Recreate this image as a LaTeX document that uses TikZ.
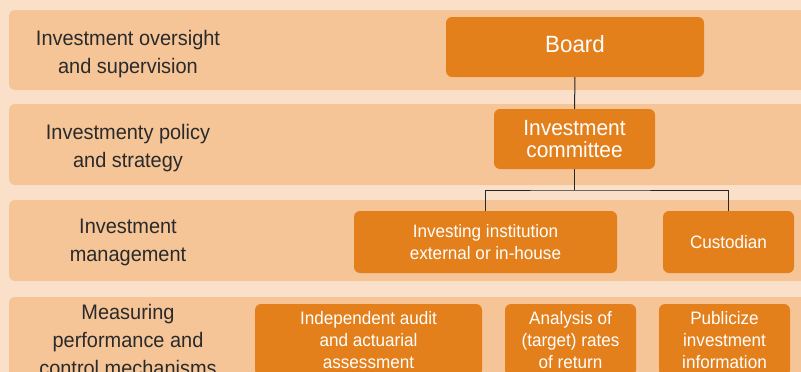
\documentclass[tikz,border=0pt]{standalone}
\usepackage{fontspec}
\setmainfont{Liberation Sans}[FakeStretch=0.95]
\usepackage{tikz}
\usetikzlibrary{positioning}
\usepackage{xcolor}
\definecolor{paper}{HTML}{FAE0C8}
\definecolor{layer}{HTML}{F5C598}
\definecolor{organ}{HTML}{E3801C}
\definecolor{caption}{HTML}{2A2A2A}

\tikzset{
  band/.style={fill=layer, rounded corners=6pt},
  lab/.style={align=center, text=caption, font=\fontsize{21}{28}\selectfont},
  unit/.style={fill=organ, rounded corners=6pt, text=white, align=center, inner sep=0pt,
    font=\fontsize{18}{22}\selectfont},
  link/.style={draw=black!85, line width=1pt}
}

\begin{document}
\begin{tikzpicture}[x=1pt, y=-1pt]
  \clip (0,0) rectangle (801,372);
  \fill[paper] (0,0) rectangle (801,372);
  % the four levels
  \fill[band] (9,10) rectangle (820,90);
  \fill[band] (9,104) rectangle (820,185);
  \fill[band] (9,200) rectangle (820,281);
  \fill[band] (9,297) rectangle (820,400);

  \node[lab] (oversight) at (128,54) {Investment oversight\\and supervision};
  \node[lab] (policy) at (128,148) {Investmenty policy\\and strategy};
  \node[lab] (management) at (128,242) {Investment\\management};
  \node[lab] (measuring) at (128,340) {Measuring\\performance and\\control mechanisms};

  % organs
  \node[unit, minimum width=258pt, minimum height=60pt, text depth=6pt, font=\fontsize{23.5}{26}\selectfont] (board) at (575,47) {Board};
  \node[unit, minimum width=161pt, minimum height=60pt, font=\fontsize{22}{21.7}\selectfont] (committee) at (574.5,139) {Investment\\committee};
  \node[unit, minimum width=263pt, minimum height=62pt] (institution) at (485.5,242) {Investing institution\\external or in-house};
  \node[unit, minimum width=131pt, minimum height=62pt] (custodian) at (728.5,242) {Custodian};
  \node[unit, minimum width=227pt, minimum height=72pt] (audit) at (368.5,340) {Independent audit\\and actuarial\\assessment};
  \node[unit, minimum width=131pt, minimum height=72pt] (rates) at (570.5,340) {Analysis of\\(target) rates\\of return};
  \node[unit, minimum width=131pt, minimum height=72pt] (publicize) at (724.5,340) {Publicize\\investment\\information};

  % lines of reporting
  \coordinate (fork) at (574.5,190);
  \draw[link] (board) -- (committee);
  \draw[link] (committee) -- (fork);
  \draw[link] (institution.north) |- (fork) -| (custodian.north);
\end{tikzpicture}
\end{document}
